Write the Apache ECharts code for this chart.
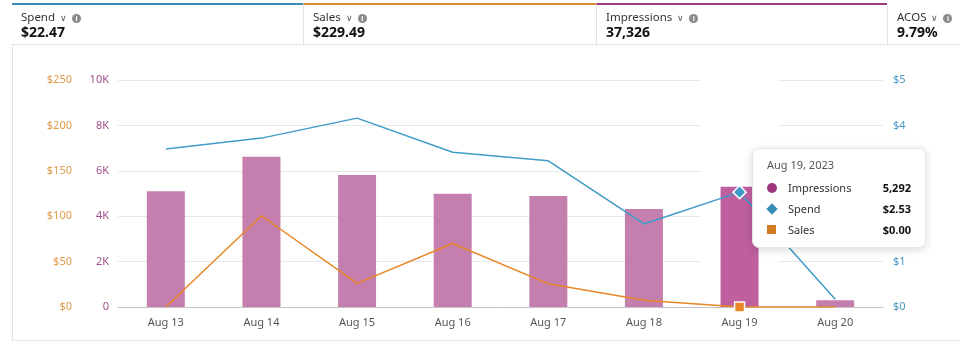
<!DOCTYPE html>
<html>
<head>
<meta charset="utf-8">
<script src="https://cdn.jsdelivr.net/npm/echarts@6/dist/echarts.min.js"></script>
<style>
  html, body { margin:0; padding:0; background:#fff; font-family:"Noto Sans", "Open Sans", sans-serif; }
  #wrap { position:relative; width:960px; height:345px; overflow:hidden; }
  #chart { position:absolute; left:0; top:0; width:960px; height:345px; }
  #box { position:absolute; left:12px; top:45px; width:960px; height:296px; border-left:1px solid #e3e3e3; border-bottom:1px solid #e3e3e3; box-sizing:border-box; }
  .card { position:absolute; top:3px; height:42px; box-sizing:border-box; border-bottom:1px solid #e3e3e3; }
  .card .lbl { position:absolute; left:9px; top:4px; font-size:11.5px; color:#333; white-space:nowrap; }
  .card .val { position:absolute; left:9px; top:17px; font-size:14px; font-weight:bold; color:#111; white-space:nowrap; }
  .chev { color:#555; font-size:9px; margin-left:5px; }
  .info { display:inline-block; width:9px; height:9px; border-radius:50%; background:#8a8a8a; color:#fff; font-size:7px; line-height:9px; text-align:center; margin-left:5px; vertical-align:0px; font-weight:bold; }
</style>
</head>
<body>
<div id="wrap">
  <div id="box"></div>
  <div id="chart"></div>
  <div id="header"></div>
</div>
<script>
// ---- data ----
const categories = ['Aug 13','Aug 14','Aug 15','Aug 16','Aug 17','Aug 18','Aug 19','Aug 20'];
const impressions = [5100, 6620, 5820, 4984, 4890, 4320, 5292, 300];
const spend = [3.48, 3.72, 4.16, 3.41, 3.22, 1.83, 2.53, 0.17];
const sales = [0, 100.5, 26, 70, 25.5, 7.5, 0, 0];
const salesTicks = ['$0','$50','$100','$150','$200','$250'];
const impressionTicks = ['0','2K','4K','6K','8K','10K'];
const spendTicks = ['$0','$1','$2','$3','$4','$5'];
const metricNames = ['Spend','Sales','Impressions','ACOS'];
const metricTotals = ['$22.47','$229.49','37,326','9.79%'];
const tooltipTitle = 'Aug 19, 2023';
const tooltipValues = ['5,292','$2.53','$0.00'];
const highlightIndex = 6;

// ---- styles ----
const C_SPEND = '#3a8db6', C_SALES = '#d47a22', C_IMP = '#c47fae', C_IMP_HI = '#ad5791', C_IMP_TOP = '#9a3d80';

// header cards
const cardDefs = [
  {left:12, width:291, color:C_SPEND},
  {left:303, width:293, color:'#d9882e'},
  {left:596, width:291, color:C_IMP_TOP},
  {left:887, width:73, color:null}
];
const header = document.getElementById('header');
cardDefs.forEach((d, i) => {
  const el = document.createElement('div');
  el.className = 'card';
  el.style.left = d.left + 'px';
  el.style.width = d.width + 'px';
  el.style.borderTop = d.color ? ('2px solid ' + d.color) : '2px solid transparent';
  if (i > 0) el.style.borderLeft = '1px solid #e3e3e3';
  el.innerHTML = '<div class="lbl">' + metricNames[i] + '<span class="chev">&#x2228;</span><span class="info">i</span></div>' +
                 '<div class="val">' + metricTotals[i] + '</div>';
  header.appendChild(el);
});

const chart = echarts.init(document.getElementById('chart'), null, {renderer:'canvas'});
const axisFont = {fontFamily:'"Noto Sans", sans-serif', fontSize:11};
const bandData = categories.map((c, i) => i === highlightIndex ? 10000 : '-');

const markers = [
  '<span style="display:inline-block;width:10px;height:10px;border-radius:50%;background:#a0357f;"></span>',
  '<span style="display:inline-block;width:8px;height:8px;background:' + C_SPEND + ';transform:rotate(45deg);margin-left:1px;"></span>',
  '<span style="display:inline-block;width:9px;height:9px;background:' + C_SALES + ';"></span>'
];
const tipNames = ['Impressions','Spend','Sales'];

chart.setOption({
  animation:false,
  grid:{left:118, right:77, top:80, bottom:38},
  xAxis:[
    {type:'category', data:categories, axisTick:{show:false},
     axisLine:{lineStyle:{color:'#c4c4c4'}},
     axisLabel:Object.assign({color:'#555', margin:10}, axisFont)},
    {type:'category', data:categories, show:false}
  ],
  yAxis:[
    {type:'value', min:0, max:250, interval:50, position:'left', offset:38,
     axisLine:{show:false}, axisTick:{show:false}, splitLine:{show:false},
     axisLabel:Object.assign({color:'#df9a48', margin:8, formatter:(v)=>salesTicks[v/50]}, axisFont)},
    {type:'value', min:0, max:10000, interval:2000, position:'left',
     axisLine:{show:false}, axisTick:{show:false},
     splitLine:{lineStyle:{color:'#e8e8e8'}},
     axisLabel:Object.assign({color:'#a0528a', margin:9, formatter:(v)=>impressionTicks[v/2000]}, axisFont)},
    {type:'value', min:0, max:5, interval:1, position:'right',
     axisLine:{show:false}, axisTick:{show:false}, splitLine:{show:false},
     axisLabel:Object.assign({color:'#4a97bf', margin:10, formatter:(v)=>spendTicks[v]}, axisFont)}
  ],
  tooltip:{
    trigger:'axis', triggerOn:'none', alwaysShowContent:true, transitionDuration:0,
    axisPointer:{type:'none'},
    position:[752,148],
    backgroundColor:'#fff', borderColor:'#e6e6e6', borderWidth:1,
    padding:[9,14,7,14],
    extraCssText:'border-radius:7px;box-shadow:0 2px 8px rgba(0,0,0,0.15);width:144px;',
    textStyle:{fontFamily:'"Noto Sans", sans-serif', fontSize:11, color:'#222'},
    formatter:function(){
      let h = '<div style="color:#555;font-size:11px;margin-bottom:5px;line-height:14px;">' + tooltipTitle + '</div>';
      tipNames.forEach((n, i) => {
        h += '<div style="display:flex;align-items:center;height:21px;line-height:21px;">' +
             '<span style="width:21px;display:inline-flex;align-items:center;">' + markers[i] + '</span>' +
             '<span style="flex:1;color:#333;">' + n + '</span>' +
             '<span style="font-weight:bold;color:#111;">' + tooltipValues[i] + '</span></div>';
      });
      return h;
    }
  },
  series:[
    {type:'bar', name:'band', xAxisIndex:1, yAxisIndex:1, data:bandData, barWidth:77,
     itemStyle:{color:'#f2f2f2'}, silent:true, z:0},
    {type:'bar', name:'Impressions', xAxisIndex:0, yAxisIndex:1, data:impressions, barWidth:38,
     itemStyle:{color:(p)=> p.dataIndex === highlightIndex ? C_IMP_HI : C_IMP}, z:2},
    {type:'line', name:'Spend', yAxisIndex:2, data:spend, lineStyle:{color:C_SPEND, width:1.5},
     itemStyle:{color:C_SPEND, borderColor:'#fff', borderWidth:1.5},
     symbol:'diamond', symbolSize:(v,p)=> p.dataIndex === highlightIndex ? 12 : 0, showSymbol:true, z:4},
    {type:'line', name:'Sales', yAxisIndex:0, data:sales, lineStyle:{color:C_SALES, width:1.5},
     itemStyle:{color:C_SALES, borderColor:'#fff', borderWidth:1.5},
     symbol:'rect', symbolSize:(v,p)=> p.dataIndex === highlightIndex ? 9 : 0, showSymbol:true, z:4}
  ]
});
chart.dispatchAction({type:'showTip', seriesIndex:1, dataIndex:highlightIndex});
</script>
</body>
</html>
